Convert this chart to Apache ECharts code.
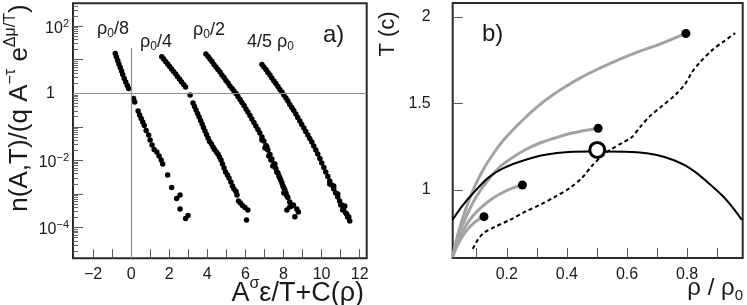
<!DOCTYPE html>
<html><head><meta charset="utf-8">
<script src="https://cdn.jsdelivr.net/npm/echarts@6/dist/echarts.min.js"></script>
<style>html,body{margin:0;padding:0;background:#fff}#c{width:747px;height:305px}</style>
</head><body><div id="c"></div>
<script>
// ---------- Panel a) data : [A^σ ε/T + C(ρ), n(A,T)/(q A^-τ e^{Δμ/T})] ----------
const rho8 = [[-0.83,15.3],[-0.77,12.1],[-0.70,9.49],[-0.64,7.47],[-0.57,5.88],[-0.50,4.62],[-0.44,3.63],[-0.36,2.76],[-0.28,2.17],[-0.20,1.71],[-0.13,1.39],
[0.13,0.70],[0.19,0.551],[0.37,0.297],[0.45,0.226],[0.53,0.177],[0.61,0.14],[0.69,0.11],[0.79,0.078],[0.92,0.0572],[1.00,0.0406],[1.10,0.0288],[1.21,0.0211],[1.35,0.0178],[1.47,0.0135],[1.58,0.0103],[1.66,0.0078],[1.92,0.00368],[2.13,0.00156],[2.39,0.000733],[2.57,0.000933],[2.57,0.000357],[2.86,0.000186],[2.99,0.000229]];
const rho4 = [[1.61,12.3],[1.71,10.5],[1.81,8.86],[1.92,7.47],[2.02,6.29],[2.13,5.30],[2.23,4.46],[2.34,3.76],[2.44,3.12],[2.55,2.61],[2.65,2.17],[2.76,1.83],[2.86,1.54],[3.10,0.89],
[3.25,0.514],[3.33,0.404],[3.41,0.318],[3.49,0.25],[3.57,0.197],[3.65,0.155],[3.73,0.122],[3.80,0.0957],[3.88,0.0753],[3.96,0.0592],[4.04,0.0466],[4.12,0.0366],[4.22,0.0309],[4.30,0.0251],[4.38,0.0211],[4.48,0.0178],[4.56,0.0155],[4.64,0.0126],[4.72,0.0103],[4.80,0.0078],[4.88,0.00592],[4.96,0.0045],[5.06,0.00366],[5.14,0.00298],[5.24,0.00226],[5.32,0.00172],[5.40,0.0014],[5.51,0.00118],[5.56,0.00093],[5.64,0.000618],[5.74,0.000538],[5.85,0.000454],[5.98,0.000395],[6.13,0.000333],[6.06,0.000168]];
const rho2 = [[3.93,14.8],[4.04,12.5],[4.14,10.5],[4.25,8.86],[4.35,7.21],[4.46,6.08],[4.56,5.12],[4.67,4.31],[4.77,3.51],[4.88,2.96],[4.98,2.41],[5.09,2.03],[5.19,1.65],[5.30,1.39],[5.40,1.17],[5.51,0.987],[5.61,0.803],[5.72,0.653],[5.82,0.532],[5.93,0.433],[6.03,0.340],[6.13,0.277],[6.24,0.218],[6.34,0.1715],[6.45,0.135],[6.55,0.106],[6.66,0.0834],[6.76,0.0656],[6.87,0.0499],[6.97,0.0379],[7.08,0.0278],[7.18,0.0204],[7.29,0.0150],[7.39,0.0110],[7.50,0.00782],[7.60,0.00574],[7.71,0.00422],[7.81,0.00299],[7.92,0.00212],[8.02,0.00151],[8.13,0.00107],[8.23,0.000785],[8.33,0.000577],[8.44,0.000438],
[6.87,0.0406],[7.03,0.0234],[7.13,0.0251],[7.23,0.01354],[7.34,0.0103],[7.44,0.00683],[7.55,0.00782],[7.65,0.00452],[7.76,0.00343],[7.86,0.00261],[7.97,0.00173],[8.07,0.00131],[8.18,0.00087],[8.18,0.000333],[8.52,0.00047],[8.60,0.00021],[8.70,0.000357],[8.78,0.00029],[8.33,0.00041],[8.02,0.00107]];
const rho45 = [[6.87,7.21],[6.97,6.08],[7.08,5.12],[7.18,4.17],[7.29,3.51],[7.39,2.86],[7.50,2.33],[7.60,1.96],[7.71,1.59],[7.81,1.30],[7.92,1.093],[8.02,0.890],[8.13,0.724],[8.23,0.590],[8.33,0.464],[8.44,0.3776],[8.54,0.307],[8.65,0.2416],[8.75,0.190],[8.86,0.1495],[8.96,0.1175],[9.07,0.0925],[9.17,0.0727],[9.28,0.0572],[9.38,0.045],[9.49,0.0354],[9.59,0.0269],[9.70,0.0204],[9.80,0.0155],[9.91,0.0114],[10.01,0.00838],[10.12,0.00615],[10.22,0.00452],[10.33,0.00332],[10.43,0.00244],[10.53,0.00185],[10.64,0.00141],[10.74,0.00107],[10.85,0.000813],[10.95,0.000618],[11.06,0.000469],[11.16,0.000357],[11.27,0.000271],[11.37,0.000206],[11.48,0.000157],
[10.43,0.00198],[10.64,0.00173],[10.85,0.001],[11.01,0.00047],[11.22,0.000438],[11.32,0.000254],[11.11,0.000333],[11.43,0.000206]];
const aXTicks = [-2,-1,0,1,2,3,4,5,6,7,8,9,10,11,12];
const aXLabels = [-2,0,2,4,6,8,10,12];
const aYLabels = [1e-4,1e-2,1,1e2];
const aYDecades = [1e-5,1e-4,1e-3,1e-2,1e-1,1,10,100];
const aYMinor = [];
aYDecades.forEach(d => { for (let m = 2; m <= 9; m++) aYMinor.push(m * d); });

// ---------- Panel b) data : [ρ/ρ0, T (c)] ----------
const boundary = [[0.019,0.827],[0.054,0.913],[0.088,0.981],[0.143,1.077],[0.199,1.134],[0.254,1.169],[0.31,1.198],[0.366,1.2135],[0.421,1.221],[0.477,1.222],[0.532,1.222],[0.643,1.216],[0.699,1.202],[0.754,1.173],[0.81,1.125],[0.866,1.048],[0.921,0.961],[0.954,0.894],[0.982,0.827]];
const path1 = [[0.02,0.613],[0.03,0.6596],[0.0433,0.7057],[0.06,0.7519],[0.08,0.7923],[0.1033,0.8269],[0.1243,0.8459]];
const path2 = [[0.02,0.613],[0.03,0.6711],[0.0433,0.7288],[0.0633,0.7923],[0.0867,0.85],[0.1167,0.9019],[0.15,0.9481],[0.1833,0.9827],[0.2167,1.0087],[0.2523,1.0289]];
const path3 = [[0.02,0.613],[0.03,0.6826],[0.0433,0.7576],[0.0633,0.8384],[0.0867,0.925],[0.1133,1.0],[0.1433,1.0692],[0.1767,1.1327],[0.2167,1.1847],[0.26,1.2308],[0.31,1.2712],[0.36,1.3001],[0.41,1.326],[0.46,1.3433],[0.5043,1.356]];
const path4 = [[0.02,0.613],[0.03,0.6942],[0.0433,0.7807],[0.06,0.873],[0.08,0.9654],[0.1,1.0462],[0.1267,1.1327],[0.1567,1.2135],[0.1867,1.2827],[0.22,1.3462],[0.26,1.4155],[0.3,1.4789],[0.3433,1.5366],[0.3933,1.5943],[0.4433,1.6463],[0.51,1.704],[0.5767,1.7559],[0.6433,1.8021],[0.71,1.8425],[0.7967,1.9059]];
const endPoints = [[0.124,0.846],[0.252,1.029],[0.504,1.356],[0.796,1.904]];
const criticalPoint = [[0.501,1.231]];
const dashedPath = [[0.0867,0.6595],[0.1033,0.7115],[0.1233,0.7519],[0.16,0.7865],[0.21,0.8269],[0.26,0.873],[0.31,0.9134],[0.36,0.9596],[0.41,1.0115],[0.45,1.0692],[0.4833,1.1385],[0.51,1.1847],[0.5433,1.2308],[0.5833,1.2712],[0.6167,1.3058],[0.6433,1.3635],[0.6767,1.427],[0.7167,1.4847],[0.76,1.5482],[0.7933,1.6117],[0.8167,1.6809],[0.8433,1.7386],[0.8833,1.8078],[0.9233,1.8598],[0.96,1.9059]];
const bXTicks = [0.1,0.2,0.3,0.4,0.5,0.6,0.7,0.8,0.9];
const bXLabels = [0.2,0.4,0.6,0.8];
const bYLabels = [1,1.5,2];

const FONT = '"Liberation Sans", Arial, sans-serif';
const TXT = '#1a1a1a';
const chart = echarts.init(document.getElementById('c'));

function logLabel(v) {
  const e = Math.round(Math.log10(v));
  if (e === 0) return '{one|1}';
  return '{b|10}{s|' + (e < 0 ? '\u2212' : '') + Math.abs(e) + '}';
}
const scatterStyle = { symbol: 'circle', symbolSize: 5.5, itemStyle: { color: '#000', opacity: 1 }, xAxisIndex: 0, yAxisIndex: 0, silent: true };

function gtext(x, y, text, rich, opts) {
  return Object.assign({ type: 'text', x: x, y: y, silent: true,
    style: Object.assign({ text: text, rich: rich, fill: TXT, fontFamily: FONT }, opts.style || {}) }, opts.el || {});
}
const richBig = (fs, sfs, pad) => ({
  b: { fontSize: fs, fontFamily: FONT, fill: TXT, padding: [pad, 0, 0, 0], lineHeight: fs },
  s: { fontSize: sfs, fontFamily: FONT, fill: TXT, verticalAlign: 'top', lineHeight: sfs }
});
const richSub = (fs, sfs, pad) => ({
  b: { fontSize: fs, fontFamily: FONT, fill: TXT, padding: [0, 0, pad, 0], lineHeight: fs },
  u: { fontSize: sfs, fontFamily: FONT, fill: TXT, verticalAlign: 'bottom', lineHeight: sfs }
});

chart.setOption({
  animation: false,
  backgroundColor: '#fff',
  grid: [
    { left: 73, top: 3.3, width: 293.7, height: 255, show: true, borderColor: '#2a2a2a', borderWidth: 2, containLabel: false },
    { left: 452.7, top: 3, width: 290, height: 255, show: true, borderColor: '#2a2a2a', borderWidth: 2, containLabel: false }
  ],
  xAxis: [
    { gridIndex: 0, type: 'value', min: -3.05, max: 12.37, axisLine: { show: false, onZero: false }, splitLine: { show: false },
      axisTick: { inside: true, length: 9, lineStyle: { color: '#555', width: 1 }, customValues: aXTicks },
      axisLabel: { customValues: aXLabels, formatter: v => v < 0 ? '\u2212' + (-v) : String(v), fontSize: 16, color: TXT, fontFamily: FONT, margin: 8 } },
    { gridIndex: 1, type: 'value', min: 0.02, max: 0.985, axisLine: { show: false, onZero: false }, splitLine: { show: false },
      axisTick: { inside: true, length: 10, lineStyle: { color: '#555', width: 1 }, customValues: bXTicks },
      axisLabel: { customValues: bXLabels, formatter: v => v.toFixed(1), fontSize: 16, color: TXT, fontFamily: FONT, margin: 9 } }
  ],
  yAxis: [
    { gridIndex: 0, type: 'log', logBase: 10, min: 1.21e-5, max: 479, position: 'left', axisLine: { show: false, onZero: false }, splitLine: { show: false },
      axisTick: { inside: true, length: 10, lineStyle: { color: '#555', width: 1 }, customValues: aYDecades },
      axisLabel: { customValues: aYLabels, formatter: logLabel, margin: 4, color: TXT,
        rich: { b: { fontSize: 16, fontFamily: FONT, color: TXT, padding: [4, 0, 0, 0], lineHeight: 16 },
                s: { fontSize: 11, fontFamily: FONT, color: TXT, verticalAlign: 'top', lineHeight: 11 },
                one: { fontSize: 16, fontFamily: FONT, color: TXT, padding: [0, 14, 0, 0] } } } },
    { gridIndex: 0, type: 'log', logBase: 10, min: 1.21e-5, max: 479, position: 'left', offset: 0, axisLine: { show: false, onZero: false }, splitLine: { show: false },
      axisTick: { inside: true, length: 5, lineStyle: { color: '#666', width: 1 }, customValues: aYMinor },
      axisLabel: { show: false } },
    { gridIndex: 1, type: 'value', min: 0.607, max: 2.08, axisLine: { show: false, onZero: false }, splitLine: { show: false },
      axisTick: { inside: true, length: 10, lineStyle: { color: '#555', width: 1 }, customValues: bYLabels },
      axisLabel: { customValues: bYLabels, formatter: v => String(v), fontSize: 16, color: TXT, fontFamily: FONT, margin: 22 } }
  ],
  series: [
    Object.assign({ type: 'scatter', name: 'ρ0/8', data: rho8,
      markLine: { silent: true, symbol: 'none', label: { show: false }, lineStyle: { color: '#8e8e8e', width: 1.2, type: 'solid' },
        data: [ { yAxis: 1 }, [ { coord: [0, 22.4] }, { coord: [0, 1.21e-5] } ] ] } }, scatterStyle),
    Object.assign({ type: 'scatter', name: 'ρ0/4', data: rho4 }, scatterStyle),
    Object.assign({ type: 'scatter', name: 'ρ0/2', data: rho2 }, scatterStyle),
    Object.assign({ type: 'scatter', name: '4/5 ρ0', data: rho45 }, scatterStyle),
    { type: 'line', xAxisIndex: 1, yAxisIndex: 2, data: boundary, smooth: 0.4, showSymbol: false, lineStyle: { color: '#000', width: 2 }, z: 3, silent: true },
    { type: 'line', xAxisIndex: 1, yAxisIndex: 2, data: path1, smooth: 0.4, showSymbol: false, lineStyle: { color: '#a3a3a3', width: 3 }, z: 2, silent: true },
    { type: 'line', xAxisIndex: 1, yAxisIndex: 2, data: path2, smooth: 0.4, showSymbol: false, lineStyle: { color: '#a3a3a3', width: 3 }, z: 2, silent: true },
    { type: 'line', xAxisIndex: 1, yAxisIndex: 2, data: path3, smooth: 0.4, showSymbol: false, lineStyle: { color: '#a3a3a3', width: 3 }, z: 2, silent: true },
    { type: 'line', xAxisIndex: 1, yAxisIndex: 2, data: path4, smooth: 0.4, showSymbol: false, lineStyle: { color: '#a3a3a3', width: 3 }, z: 2, silent: true },
    { type: 'line', xAxisIndex: 1, yAxisIndex: 2, data: dashedPath, smooth: 0.3, showSymbol: false, lineStyle: { color: '#000', width: 2, type: [4, 3] }, z: 3, silent: true },
    { type: 'scatter', xAxisIndex: 1, yAxisIndex: 2, data: endPoints, symbol: 'circle', symbolSize: 9, itemStyle: { color: '#000', opacity: 1 }, z: 5, silent: true },
    { type: 'scatter', xAxisIndex: 1, yAxisIndex: 2, data: criticalPoint, symbol: 'circle', symbolSize: 15, itemStyle: { color: '#fff', borderColor: '#000', borderWidth: 3, opacity: 1 }, z: 6, silent: true }
  ],
  graphic: [
    gtext(16, 108, '{b|n(A,T)/(q A}{s|\u2212\u03c4}{b| e}{s|\u0394\u03bc/T}{b|)}', richBig(26, 16, 8),
      { el: { rotation: Math.PI / 2 }, style: { align: 'center', verticalAlign: 'middle' } }),
    gtext(364, 303, '{b|A}{s|\u03c3}{b|\u03b5/T+C(\u03c1)}', richBig(27, 16, 8),
      { style: { align: 'right', verticalAlign: 'bottom' } }),
    gtext(388, 34, '{b|T (c)}', richBig(22, 14, 0),
      { el: { rotation: Math.PI / 2 }, style: { align: 'center', verticalAlign: 'middle' } }),
    gtext(743, 303, '{b|\u03c1 / \u03c1}{u|0}', richSub(24, 15, 5),
      { style: { align: 'right', verticalAlign: 'bottom' } }),
    gtext(97, 31, '{b|\u03c1}{u|0}{b|/8}', richSub(18, 12, 4), { style: { align: 'left', verticalAlign: 'middle' } }),
    gtext(140, 44, '{b|\u03c1}{u|0}{b|/4}', richSub(18, 12, 4), { style: { align: 'left', verticalAlign: 'middle' } }),
    gtext(193, 32, '{b|\u03c1}{u|0}{b|/2}', richSub(18, 12, 4), { style: { align: 'left', verticalAlign: 'middle' } }),
    gtext(247, 44, '{b|4/5 \u03c1}{u|0}', richSub(18, 12, 4), { style: { align: 'left', verticalAlign: 'middle' } }),
    gtext(323, 35, '{b|a)}', richBig(24, 14, 0), { style: { align: 'left', verticalAlign: 'middle' } }),
    gtext(482, 34, '{b|b)}', richBig(24, 14, 0), { style: { align: 'left', verticalAlign: 'middle' } })
  ]
});
</script>
</body></html>
